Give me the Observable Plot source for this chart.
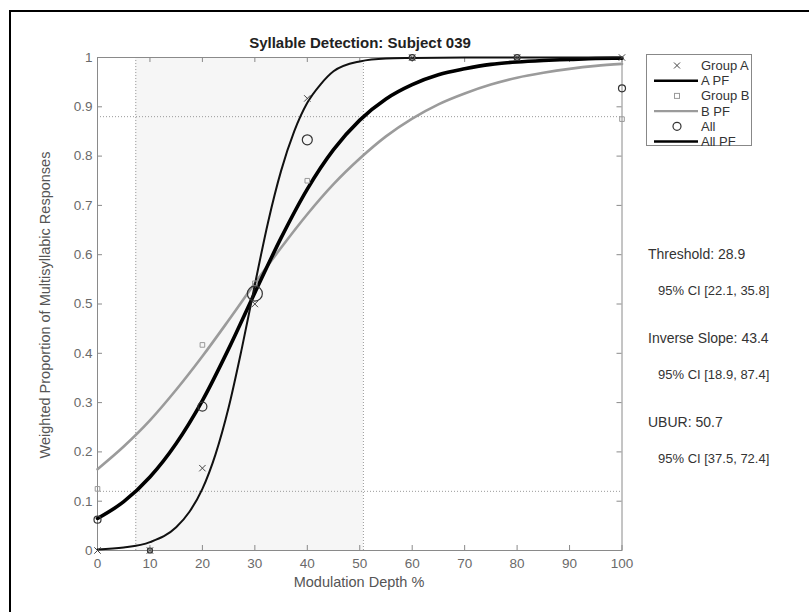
<!DOCTYPE html>
<html><head><meta charset="utf-8">
<script src="https://cdn.jsdelivr.net/npm/d3@7"></script>
<script src="https://cdn.jsdelivr.net/npm/@observablehq/plot@0.6"></script>
<style>
html,body{margin:0;padding:0;background:#fff;overflow:hidden;}
#wrap{position:relative;width:809px;height:612px;overflow:hidden;}
#wrap svg{position:absolute;left:0;top:0;}
</style></head>
<body><div id="wrap"></div>
<script>
// ---- data ----
const depth = [0, 10, 20, 30, 40, 60, 80, 100];
const groupA = [0, 0, 0.167, 0.5, 0.917, 1, 1, 1];
const groupB = [0.125, 0, 0.417, 0.542, 0.75, 1, 1, 0.875];
const groupAll = [0.0625, 0, 0.292, 0.521, 0.833, 1, 1, 0.9375];
const allSize = [3.5, 2.5, 4.5, 7.5, 5, 3, 3, 3.5];

const pfAx = [0, 5, 10, 15, 17.5, 20, 22.5, 25, 27.5, 30, 32.5, 35, 37.5, 40, 42.5, 45, 50, 55, 60, 70, 80, 90, 100];
const pfAy = [0.002, 0.006, 0.017, 0.047, 0.078, 0.125, 0.195, 0.29, 0.409, 0.539, 0.665, 0.77, 0.85, 0.908, 0.945, 0.972, 0.992, 0.998, 0.999, 1, 1, 1, 1];
const pfX = [0, 5, 10, 15, 20, 25, 30, 35, 40, 45, 50, 55, 60, 65, 70, 75, 80, 85, 90, 95, 100];
const pfBy = [0.165, 0.211, 0.264, 0.326, 0.394, 0.467, 0.542, 0.614, 0.682, 0.743, 0.795, 0.840, 0.876, 0.905, 0.927, 0.945, 0.959, 0.969, 0.977, 0.983, 0.987];
const pfAlly = [0.065, 0.099, 0.149, 0.217, 0.304, 0.409, 0.523, 0.634, 0.733, 0.813, 0.873, 0.916, 0.945, 0.965, 0.977, 0.986, 0.991, 0.994, 0.996, 0.998, 0.9985];

const ciBounds = [7.3, 50.7];
const ciLevels = [0.12, 0.88];

const xTicks = [0, 10, 20, 30, 40, 50, 60, 70, 80, 90, 100];
const xTickLabels = ["0", "10", "20", "30", "40", "50", "60", "70", "80", "90", "100"];
const yTicks = [0, 0.1, 0.2, 0.3, 0.4, 0.5, 0.6, 0.7, 0.8, 0.9, 1];
const yTickLabels = ["0", "0.1", "0.2", "0.3", "0.4", "0.5", "0.6", "0.7", "0.8", "0.9", "1"];

const title = "Syllable Detection: Subject 039";
const xLabel = "Modulation Depth %";
const yLabel = "Weighted Proportion of Multisyllabic Responses";
const legendLabels = ["Group A", "A PF", "Group B", "B PF", "All", "All PF"];
const annotations = [
  ["Threshold: 28.9", "95% CI [22.1, 35.8]"],
  ["Inverse Slope: 43.4", "95% CI [18.9, 87.4]"],
  ["UBUR: 50.7", "95% CI [37.5, 72.4]"]
];

// ---- tables ----
const ptsA = depth.map((x, i) => ({x, y: groupA[i]}));
const ptsB = depth.map((x, i) => ({x, y: groupB[i]}));
const ptsAll = depth.map((x, i) => ({x, y: groupAll[i], r: allSize[i]}));
const lineA = pfAx.map((x, i) => ({x, y: pfAy[i]}));
const lineB = pfX.map((x, i) => ({x, y: pfBy[i]}));
const lineAll = pfX.map((x, i) => ({x, y: pfAlly[i]}));

const W = 809, H = 612, mL = 97, mR = 187.5, mT = 57, mB = 62;
const plotH = H - mT - mB, plotW = W - mL - mR;
const FONT = "'Liberation Sans', Arial, Helvetica, sans-serif";
const axisGray = "#8a8a8a";

const chart = Plot.plot({
  width: W, height: H,
  marginLeft: mL, marginRight: mR, marginTop: mT, marginBottom: mB,
  x: {domain: [0, 100]},
  y: {domain: [0, 1]},
  r: {type: "identity"},
  style: {fontFamily: FONT, fontSize: "13.5px", color: "#666", background: "transparent"},
  marks: [
    Plot.rect([ciBounds], {x1: d => d[0], x2: d => d[1], y1: 0, y2: 1, fill: "#f6f6f6"}),
    Plot.ruleX(ciBounds, {x: d => d, stroke: "#9a9a9a", strokeDasharray: "1,2", strokeWidth: 1}),
    Plot.ruleY(ciLevels, {y: d => d, stroke: "#9a9a9a", strokeDasharray: "1,2", strokeWidth: 1}),
    Plot.frame({stroke: axisGray, strokeWidth: 1}),
    Plot.tickX(xTicks, {x: d => d, insetTop: plotH - 5, stroke: axisGray}),
    Plot.tickX(xTicks, {x: d => d, insetBottom: plotH - 5, stroke: axisGray}),
    Plot.tickY(yTicks, {y: d => d, insetRight: plotW - 5, stroke: axisGray}),
    Plot.tickY(yTicks, {y: d => d, insetLeft: plotW - 5, stroke: axisGray}),
    Plot.axisX({ticks: xTicks, tickSize: 0, tickPadding: 8, label: null,
      tickFormat: d => xTickLabels[xTicks.indexOf(d)], fill: "#6a6a6a"}),
    Plot.axisY({ticks: yTicks, tickSize: 0, tickPadding: 5, label: null,
      tickFormat: d => yTickLabels[yTicks.indexOf(d)], fill: "#6a6a6a"}),
    Plot.line(lineB, {x: "x", y: "y", stroke: "#9b9b9b", strokeWidth: 2.6, curve: "monotone-x"}),
    Plot.line(lineAll, {x: "x", y: "y", stroke: "#000", strokeWidth: 3.6, curve: "monotone-x"}),
    Plot.line(lineA, {x: "x", y: "y", stroke: "#111", strokeWidth: 2, curve: "monotone-x"}),
    Plot.dot(ptsB, {x: "x", y: "y", symbol: "square", r: 2.6, stroke: "#999", fill: "none", strokeWidth: 1}),
    Plot.dot(ptsA, {x: "x", y: "y", symbol: "times", r: 3, stroke: "#444", strokeWidth: 1}),
    Plot.dot(ptsAll, {x: "x", y: "y", r: "r", stroke: "#333", fill: "none", strokeWidth: 1.2})
  ]
});
document.getElementById("wrap").appendChild(chart);

// ---- figure border, text and legend ----
const svg = d3.select(chart);
svg.append("path").attr("d", "M10,640V11H840").attr("fill", "none").attr("stroke", "#000").attr("stroke-width", 2);
const g = svg.append("g").attr("font-family", FONT).attr("text-anchor", "start");
g.append("text").attr("x", 360).attr("y", 48).attr("text-anchor", "middle")
  .attr("font-size", 15).attr("font-weight", "bold").attr("fill", "#222").text(title);
g.append("text").attr("x", 359).attr("y", 587).attr("text-anchor", "middle")
  .attr("font-size", 14.5).attr("fill", "#555").text(xLabel);
g.append("text").attr("transform", "translate(50,305) rotate(-90)").attr("text-anchor", "middle")
  .attr("font-size", 14.5).attr("fill", "#555").text(yLabel);

annotations.forEach((a, i) => {
  const y0 = 259 + i * 84;
  g.append("text").attr("x", 648).attr("y", y0).attr("text-anchor", "start").attr("font-size", 14).attr("fill", "#333").text(a[0]);
  g.append("text").attr("x", 658).attr("y", y0 + 36).attr("text-anchor", "start").attr("font-size", 13).attr("fill", "#333").text(a[1]);
});

const lg = g.append("g");
lg.append("rect").attr("x", 646.5).attr("y", 54.5).attr("width", 105).attr("height", 91)
  .attr("fill", "#fff").attr("stroke", "#888");
legendLabels.forEach((lab, i) => {
  const cy = 65.5 + i * 15.2;
  lg.append("text").attr("x", 701).attr("y", cy + 4.5).attr("text-anchor", "start").attr("font-size", 13).attr("fill", "#333").text(lab);
  if (i === 0) {
    lg.append("path").attr("d", `M${674},${cy - 3}l6,6M${680},${cy - 3}l-6,6`).attr("stroke", "#444");
  } else if (i === 2) {
    lg.append("rect").attr("x", 674.5).attr("y", cy - 2.5).attr("width", 5).attr("height", 5).attr("fill", "none").attr("stroke", "#999");
  } else if (i === 4) {
    lg.append("circle").attr("cx", 677).attr("cy", cy).attr("r", 4).attr("fill", "none").attr("stroke", "#333").attr("stroke-width", 1.2);
  } else {
    const col = i === 3 ? "#9b9b9b" : "#000";
    const sw = i === 3 ? 2.2 : 2.6;
    lg.append("line").attr("x1", 654).attr("x2", 698).attr("y1", cy).attr("y2", cy).attr("stroke", col).attr("stroke-width", sw);
  }
});
</script>
</body></html>
